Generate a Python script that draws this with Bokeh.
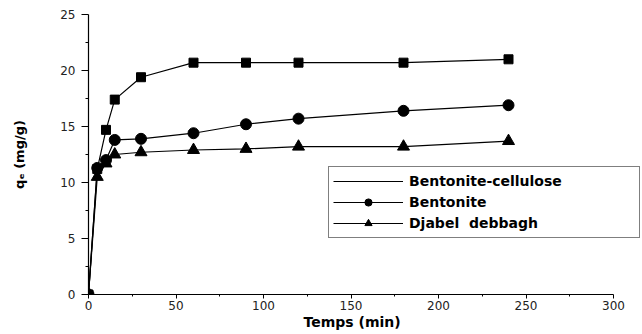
from bokeh.plotting import figure
from bokeh.models import Range1d, Legend, LegendItem, FixedTicker, Title
from bokeh.embed import file_html
from bokeh.resources import INLINE

# Data
time_min = [0, 5, 10, 15, 30, 60, 90, 120, 180, 240]
bentonite_cellulose = [0, 11.2, 14.7, 17.4, 19.4, 20.7, 20.7, 20.7, 20.7, 21.0]
bentonite = [0, 11.3, 12.0, 13.8, 13.9, 14.4, 15.2, 15.7, 16.4, 16.9]
djabel_debbagh = [0, 10.5, 11.7, 12.5, 12.7, 12.9, 13.0, 13.2, 13.2, 13.7]

x_ticks = [0, 50, 100, 150, 200, 250, 300]
y_ticks = [0, 5, 10, 15, 20, 25]
x_minor = [t + 25 for t in x_ticks[:-1]]
y_minor = [t + 2.5 for t in y_ticks[:-1]]

# frame spans 88..640 px; the axis itself stops at 300 (613 px)
x_end = 300 * 552 / 525

p = figure(width=642, height=334, output_backend="svg", toolbar_location=None,
           x_range=Range1d(0, x_end), y_range=Range1d(0, 25),
           min_border_left=88, min_border_right=2, min_border_top=14,
           min_border_bottom=40, background_fill_color="white",
           border_fill_color="white")
p.outline_line_color = None
p.grid.visible = False

BLACK = "#000000"
l1 = p.line(time_min, bentonite_cellulose, line_color=BLACK, line_width=1.2)
m1 = p.scatter(time_min, bentonite_cellulose, marker="square", size=9,
               fill_color=BLACK, line_color=BLACK)
l2 = p.line(time_min, bentonite, line_color=BLACK, line_width=1.2)
m2 = p.scatter(time_min, bentonite, marker="circle", size=11,
               fill_color=BLACK, line_color=BLACK)
l3 = p.line(time_min, djabel_debbagh, line_color=BLACK, line_width=1.2)
m3 = p.scatter(time_min, djabel_debbagh, marker="triangle", size=12,
               fill_color=BLACK, line_color=BLACK)

# axes
p.xaxis.ticker = FixedTicker(ticks=x_ticks, minor_ticks=x_minor)
p.yaxis.ticker = FixedTicker(ticks=y_ticks, minor_ticks=y_minor)
p.xaxis.bounds = (x_ticks[0], x_ticks[-1])
for ax in (p.xaxis, p.yaxis):
    ax.axis_line_color = BLACK
    ax.axis_line_width = 1.2
    ax.major_tick_line_color = BLACK
    ax.minor_tick_line_color = BLACK
    ax.major_tick_in = 0
    ax.minor_tick_in = 0
    ax.major_label_text_font = "DejaVu Sans"
    ax.major_label_text_font_size = "12px"
    ax.major_label_text_color = "#222222"
    ax.axis_label_text_font = "DejaVu Sans"
    ax.axis_label_text_font_style = "bold"
    ax.axis_label_text_color = BLACK

p.xaxis.major_tick_out = 4
p.xaxis.minor_tick_out = 2
p.xaxis.major_label_standoff = 2

# x-axis title centred under the axis (0..300), not under the wider frame
x_title = Title(text="Temps  (min)", align="left", offset=215,
                vertical_align="top", standoff=2,
                text_font="DejaVu Sans", text_font_style="bold",
                text_font_size="14px", text_color=BLACK)
p.add_layout(x_title, "below")

p.yaxis.major_tick_out = 7
p.yaxis.minor_tick_out = 3
p.yaxis.major_label_standoff = 6
p.yaxis.axis_label = "qₑ (mg/g)"
p.yaxis.axis_label_text_font_size = "13px"
p.yaxis.axis_label_standoff = 30

legend = Legend(items=[
    LegendItem(label="Bentonite-cellulose", renderers=[l1]),
    LegendItem(label="Bentonite", renderers=[l2, m2]),
    LegendItem(label="Djabel  debbagh", renderers=[l3, m3]),
], location=(240, 56))
legend.border_line_color = BLACK
legend.border_line_width = 1
legend.background_fill_color = "white"
legend.background_fill_alpha = 1
legend.padding = 4
legend.spacing = 1
legend.margin = 0
legend.glyph_width = 70
legend.glyph_height = 18
legend.label_height = 20
legend.label_standoff = 6
legend.label_width = 226
legend.label_text_font = "DejaVu Sans"
legend.label_text_font_style = "bold"
legend.label_text_font_size = "14px"
legend.label_text_color = BLACK
p.add_layout(legend, "center")

open("out.html", "w").write(file_html(p, INLINE))
